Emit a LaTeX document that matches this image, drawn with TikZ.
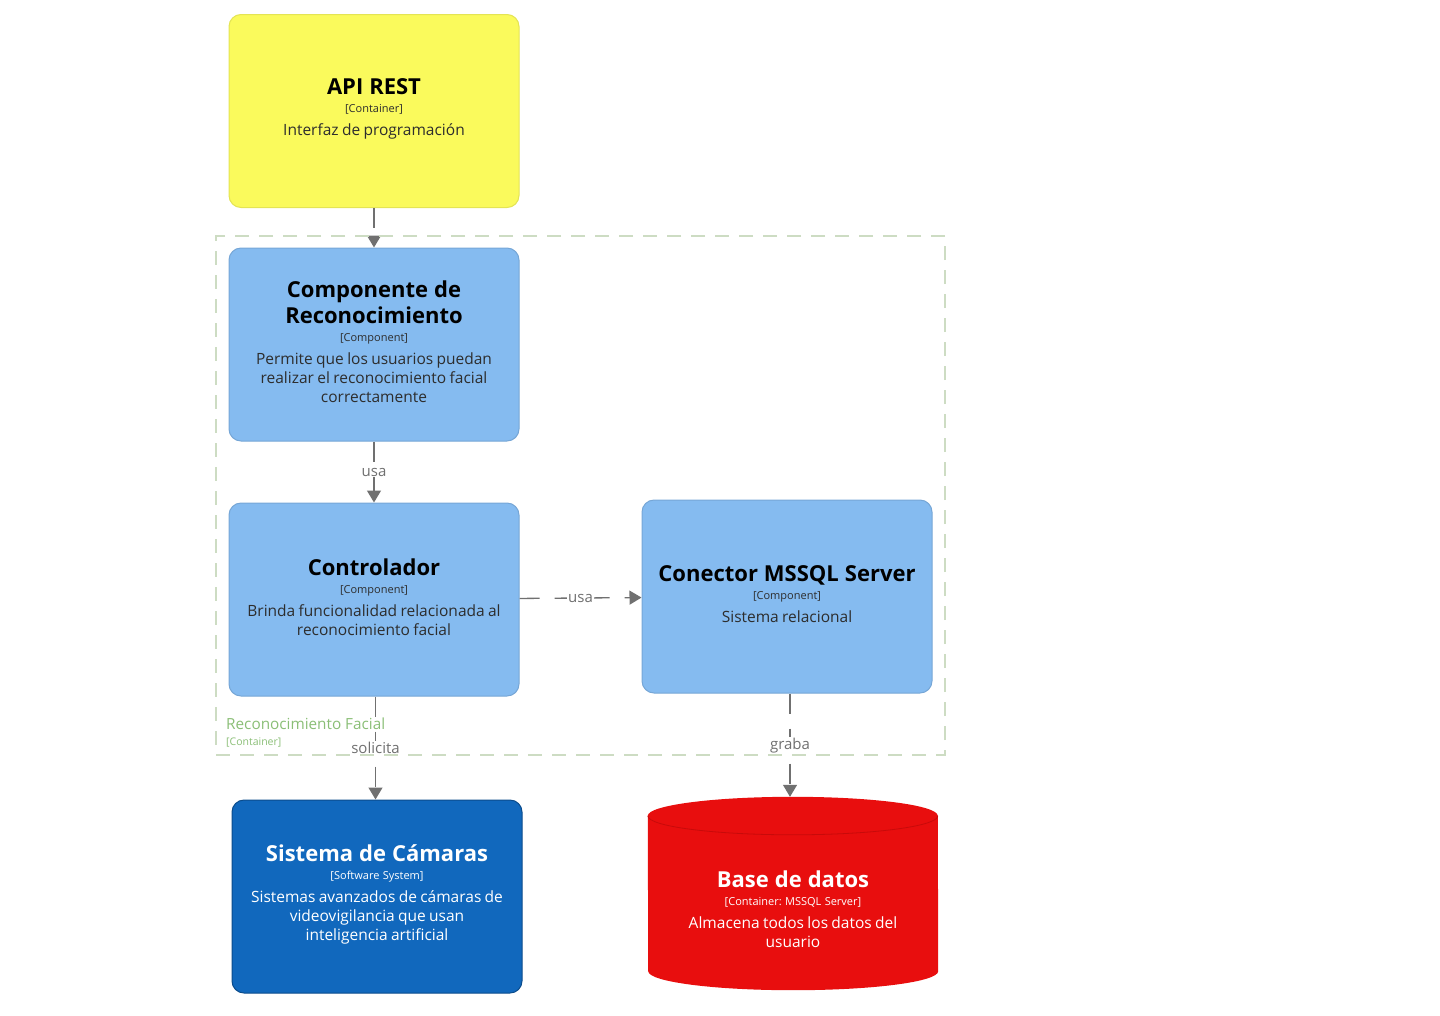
\documentclass[tikz,border=0pt]{standalone}
\usepackage{fontspec}
\setmainfont{Open Sans}
\frenchspacing
\usetikzlibrary{calc}
\usetikzlibrary{positioning}
\usetikzlibrary{arrows.meta}

\definecolor{apiyellow}{RGB}{250,250,92}
\definecolor{apiborder}{RGB}{228,228,84}
\definecolor{compblue}{RGB}{133,187,240}
\definecolor{compborder}{RGB}{118,166,214}
\definecolor{sysblue}{RGB}{17,104,189}
\definecolor{sysborder}{RGB}{11,76,140}
\definecolor{dbred}{RGB}{232,14,14}
\definecolor{dbedge}{RGB}{200,10,10}
\definecolor{linkgray}{RGB}{112,112,112}
\definecolor{bndline}{RGB}{205,220,195}
\definecolor{bndtext}{RGB}{138,190,118}
\definecolor{desctext}{RGB}{45,45,45}

\newcommand{\elemtitle}[1]{{\fontsize{22}{26}\selectfont\bfseries\spaceskip=6pt\relax #1\par}}
\newcommand{\elemtag}[1]{{\fontsize{11}{18}\selectfont #1\par}}
\newcommand{\elemdesc}[1]{{\fontsize{15.5}{19}\selectfont\vspace{4pt}#1\par}\vspace{5pt}}

\begin{document}
\begin{tikzpicture}[
        x=1pt, y=1pt,
        element/.style={
            rectangle,
            rounded corners=12pt,
            line width=1pt,
            minimum width=290pt,
            minimum height=193pt,
            text width=280pt,
            align=center,
            inner sep=0pt,
        },
        container/.style={element, draw=apiborder, fill=apiyellow, text=desctext},
        component/.style={element, draw=compborder, fill=compblue, text=desctext},
        softsys/.style={element, draw=sysborder, fill=sysblue, text=white},
        dbstore/.style={rectangle, minimum width=290pt, minimum height=193pt, inner sep=0pt},
        link/.style={
            draw=linkgray,
            line width=1.3pt,
            dash pattern=on 20pt off 15pt,
            -{Triangle[length=12pt, width=14pt]},
        },
        linklabel/.style={
            text=linkgray,
            font=\fontsize{15}{18}\selectfont,
            fill=white,
            inner sep=1pt,
        },
        boundary/.style={
            rectangle,
            draw=bndline,
            line width=1.3pt,
            dash pattern=on 14pt off 10pt,
            minimum width=729pt,
            minimum height=519pt,
        }
    ]

    \useasboundingbox (0,0) rectangle (1440,-1015);

    \node (api) at (374,-111) [container] {\elemtitle{\color{black}API REST}\elemtag{[Container]}\elemdesc{Interfaz de programación}};
    \node (comp) at (374,-344.5) [component] {\elemtitle{\color{black}Componente de\\Reconocimiento}\elemtag{[Component]}\elemdesc{Permite que los usuarios puedan\\realizar el reconocimiento facial\\correctamente}};
    \node (ctrl) at (374,-599.5) [component] {\elemtitle{\color{black}Controlador}\elemtag{[Component]}\elemdesc{Brinda funcionalidad relacionada al\\reconocimiento facial}};
    \node (conn) at (787,-596.5) [component] {\elemtitle{\color{black}Conector MSSQL Server}\elemtag{[Component]}\elemdesc{Sistema relacional}};
    \node (cam) at (377,-896.5) [softsys] {\elemtitle{Sistema de Cámaras}\elemtag{[Software System]}\elemdesc{Sistemas avanzados de cámaras de\\videovigilancia que usan\\inteligencia artificial}};

    % database cylinder
    \node (db) at (793,-893.5) [dbstore] {};
    \fill [dbred] ($(db.north west)+(0,-19)$) arc[start angle=180, end angle=0, x radius=145, y radius=19]
        -- ($(db.south east)+(0,19)$) arc[start angle=0, end angle=-180, x radius=145, y radius=19] -- cycle;
    \draw [dbedge, line width=0.8pt] ($(db.north west)+(0,-19)$) arc[start angle=180, end angle=360, x radius=145, y radius=19];
    \node (dbtext) at ($(db.center)+(0,-18)$) [text width=280pt, align=center, inner sep=0pt, text=white]
        {\elemtitle{Base de datos}\elemtag{[Container: MSSQL Server]}\elemdesc{Almacena todos los datos del\\usuario}};

    \draw [link] (api) -- (comp);
    \draw [link] (comp) -- node [linklabel] {usa} (ctrl);
    \draw [link] (ctrl) -- node [linklabel] {usa} (conn);
    \draw [link] ($(ctrl.south)+(1.5,0)$) -- node [linklabel] {solicita} ($(cam.north)+(-1.5,0)$);
    \draw [link] ($(conn.south)+(3,0)$) -- node [linklabel] {graba} ($(db.north)+(-3,0)$);

    % boundary of the container
    \node (bnd) at (580.5,-495.5) [boundary] {};
    \node (bndname) at (226,-724) [anchor=west, inner sep=0pt, text=bndtext,
        font=\fontsize{15.3}{18}\selectfont] {Reconocimiento Facial};
    \node (bndtag) at (226,-742) [anchor=west, inner sep=0pt, text=bndtext,
        font=\fontsize{10.5}{12}\selectfont] {[Container]};

\end{tikzpicture}
\end{document}
